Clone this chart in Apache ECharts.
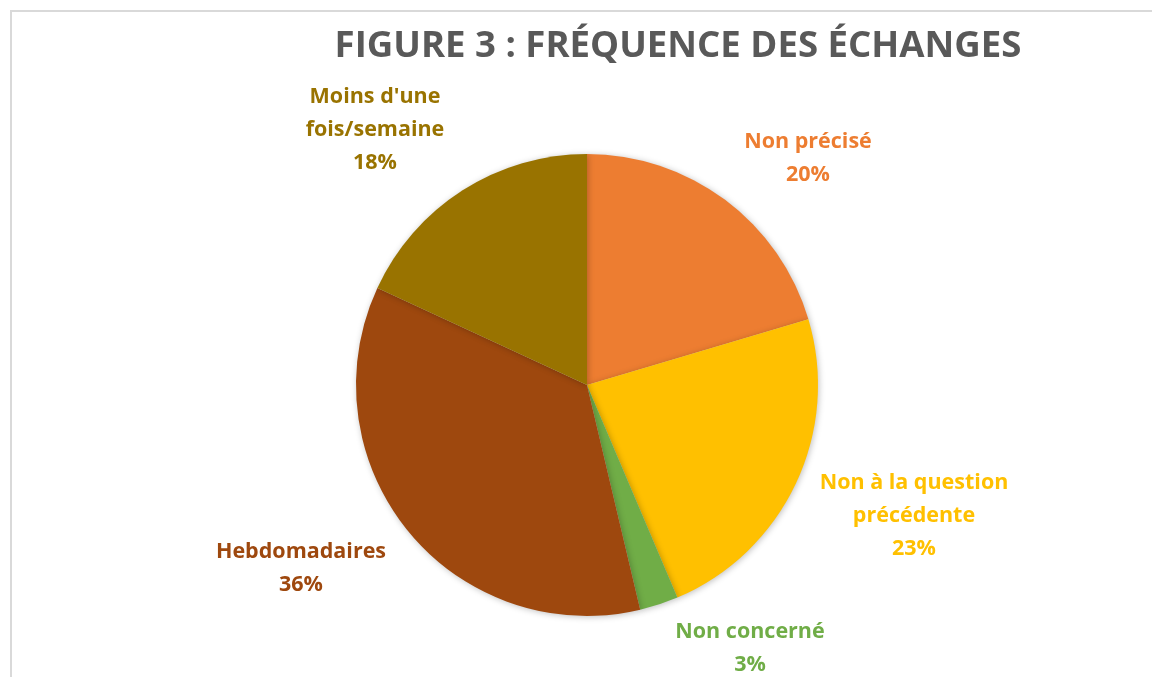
<!DOCTYPE html>
<html><head><meta charset="utf-8">
<script src="https://cdn.jsdelivr.net/npm/echarts@6/dist/echarts.min.js"></script>
<style>html,body{margin:0;padding:0;background:#fff}#c{width:1152px;height:677px}</style>
</head><body><div id="c"></div>
<script>
const categories = ["Non précisé", "Non à la question\nprécédente", "Non concerné", "Hebdomadaires", "Moins d'une\nfois/semaine"];
const values = [20.4, 23.2, 2.7, 35.6, 18.1];
const colors = ["#ED7D31", "#FFC000", "#70AD47", "#9E480E", "#997300"];
const titleText = "FIGURE 3 : FRÉQUENCE DES ÉCHANGES";

const labelPos = [[808, 158], [914, 516], [750, 648], [301, 568], [375, 130]];
const total = values.reduce((a, b) => a + b, 0);
const FONT = "'Open Sans', sans-serif";

const chart = echarts.init(document.getElementById('c'), null, {renderer: 'canvas'});
chart.setOption({
  animation: false,
  backgroundColor: '#fff',
  title: {
    text: titleText, left: 673, top: 23, textAlign: 'center',
    textStyle: {fontFamily: FONT, fontWeight: 'bold', fontSize: 36.6, color: '#595959'}
  },
  graphic: [{
    type: 'rect', shape: {x: 11, y: 11, width: 1300, height: 800},
    style: {fill: 'none', stroke: '#d9d9d9', lineWidth: 2}, silent: true
  }],
  series: [{
    type: 'pie',
    center: [587, 385],
    radius: 231,
    startAngle: 90,
    clockwise: true,
    labelLine: {show: false},
    itemStyle: {shadowBlur: 6, shadowColor: 'rgba(0,0,0,0.25)', shadowOffsetX: 1, shadowOffsetY: 1},
    label: {
      show: true, position: 'outside',
      fontFamily: FONT, fontWeight: 'bold', fontSize: 21.5, lineHeight: 33, align: 'center',
      formatter: p => p.name + '\n' + Math.round(p.value / total * 100) + '%'
    },
    labelLayout: p => ({x: labelPos[p.dataIndex][0], y: labelPos[p.dataIndex][1], align: 'center', verticalAlign: 'middle'}),
    data: categories.map((c, i) => ({
      name: c, value: values[i],
      itemStyle: {color: colors[i]},
      label: {color: colors[i]}
    }))
  }]
});
</script></body></html>
